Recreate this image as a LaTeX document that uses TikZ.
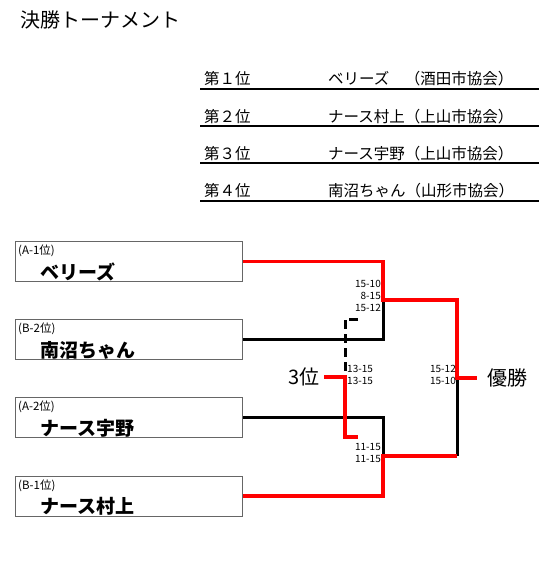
\documentclass[tikz,border=0pt]{standalone}
\usepackage{fontspec}
\setmainfont{Noto Sans CJK JP}
\begin{document}
\begin{tikzpicture}[x=1pt,y=-1pt,
  team/.style={draw=black!60, line width=1.2pt, minimum width=227pt, minimum height=40pt, inner sep=0pt, anchor=north west},
  seed/.style={font=\fontsize{11.5}{12}\selectfont, anchor=west, inner sep=0pt},
  tname/.style={font=\fontsize{19}{20}\selectfont\bfseries, anchor=west, inner sep=0pt},
  rank/.style={font=\fontsize{15.5}{16}\selectfont, anchor=west, inner sep=0pt},
  rule/.style={line width=2pt},
  score/.style={font=\fontsize{10}{12}\selectfont, inner sep=0pt, align=right},
  scorel/.style={font=\fontsize{10}{12}\selectfont, inner sep=0pt, align=left},
  win/.style={draw=red, line width=3.6pt},
  lose/.style={draw=black, line width=3pt},
  big/.style={font=\fontsize{20}{21}\selectfont, inner sep=0pt}]
\useasboundingbox (0,0) rectangle (560,582);

% title
\node[anchor=west, inner sep=0pt, font=\fontsize{20}{21}\selectfont] (title) at (20,20) {決勝トーナメント};

% ranking table
\node[rank] (r1) at (204,79) {第１位};
\node[rank] (n1) at (328,79) {ベリーズ　（酒田市協会）};
\node[rank] (r2) at (204,117) {第２位};
\node[rank] (n2) at (328,117) {ナース村上（上山市協会）};
\node[rank] (r3) at (204,154) {第３位};
\node[rank] (n3) at (328,154) {ナース宇野（上山市協会）};
\node[rank] (r4) at (204,191) {第４位};
\node[rank] (n4) at (328,191) {南沼ちゃん（山形市協会）};
\coordinate (l1a) at (200,89);  \coordinate (l1b) at (539,89);
\coordinate (l2a) at (200,126); \coordinate (l2b) at (539,126);
\coordinate (l3a) at (200,163); \coordinate (l3b) at (539,163);
\coordinate (l4a) at (200,201); \coordinate (l4b) at (539,201);
\draw[rule] (l1a) -- (l1b);
\draw[rule] (l2a) -- (l2b);
\draw[rule] (l3a) -- (l3b);
\draw[rule] (l4a) -- (l4b);

% team boxes
\node[team] (b1) at (15,241) {};
\node[team] (b2) at (15,319) {};
\node[team] (b3) at (15,397) {};
\node[team] (b4) at (15,475.5) {};
\node[seed] at ([xshift=3pt,yshift=-10pt]b1.north west) {(A-1位)};
\node[tname] at ([xshift=25pt,yshift=-31pt]b1.north west) {ベリーズ};
\node[seed] at ([xshift=3pt,yshift=-10pt]b2.north west) {(B-2位)};
\node[tname] at ([xshift=25pt,yshift=-31pt]b2.north west) {南沼ちゃん};
\node[seed] at ([xshift=3pt,yshift=-10pt]b3.north west) {(A-2位)};
\node[tname] at ([xshift=25pt,yshift=-31pt]b3.north west) {ナース宇野};
\node[seed] at ([xshift=3pt,yshift=-10pt]b4.north west) {(B-1位)};
\node[tname] at ([xshift=25pt,yshift=-31pt]b4.north west) {ナース村上};

% bracket coordinates
\coordinate (j1) at (383,300);
\coordinate (j2) at (383,456);
\coordinate (k2) at (457,456);
\coordinate (f) at (457,378);
\coordinate (w) at (477,378);
\coordinate (t1) at (358,319);
\coordinate (t2) at (345,319);
\coordinate (t3) at (345,377);
\coordinate (t4) at (345,437);
\coordinate (t5) at (358,437);

% black (losing) lines
\draw[lose] (b2.east) -| (j1);
\draw[lose] (b3.east) -| (j2);
\draw[lose] (k2) -- (f);
\draw[draw=black, line width=3pt, dash pattern=on 9pt off 5pt] (t1) -- (t2) -- (t3);

% red (winning) lines
\draw[win] (b1.east) -| (j1) -| (f) -- (w);
\draw[win] (b4.east) -| (j2) -- (k2);

% labels
\node[big, anchor=east] (third) at (320,377) {3位};
\node[big, anchor=west] (champ) at (487,378) {優勝};
\draw[win] (third.east) ++(4pt,0) coordinate (t0) (t0) -- (t3) -- (t4) -- (t5);

% scores
\node[score, anchor=north east] (s1) at (381,280) {15-10\\8-15\\15-12};
\node[scorel, anchor=north west] (s2) at (347,365) {13-15\\13-15};
\node[score, anchor=north east] (s3) at (456,365) {15-12\\15-10};
\node[score, anchor=north east] (s4) at (381,443) {11-15\\11-15};
\end{tikzpicture}
\end{document}
